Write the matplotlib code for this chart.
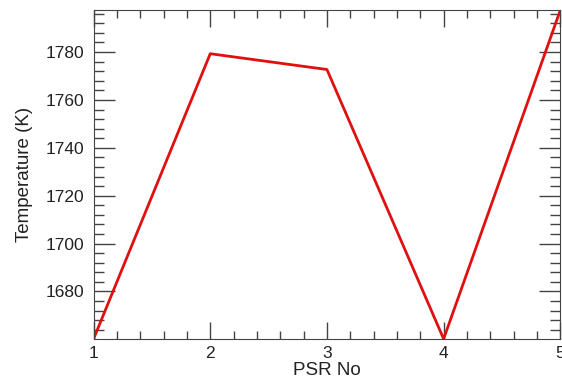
import matplotlib
matplotlib.use("Agg")
import matplotlib.pyplot as plt
from matplotlib.ticker import MultipleLocator

psr_no = [1, 2, 3, 4, 5]
temperature = [1660.2, 1779.3, 1772.7, 1660.2, 1797.5]

plt.rcParams['font.family'] = ['Liberation Sans', 'DejaVu Sans']
fig = plt.figure(figsize=(5.62, 3.90), dpi=100)
ax = fig.add_axes([0.1665, 0.131, 0.8305, 0.843])
ax.plot(psr_no, temperature, color='#e01010', lw=2.0)
ax.set_xlim(min(psr_no), max(psr_no))
ax.set_ylim(min(temperature), max(temperature))
ax.xaxis.set_major_locator(MultipleLocator(1))
ax.xaxis.set_minor_locator(MultipleLocator(0.2))
ax.yaxis.set_major_locator(MultipleLocator(20))
ax.yaxis.set_minor_locator(MultipleLocator(4))
ax.tick_params(which='both', direction='in', top=True, right=True, labelsize=12.5, color='#444444', labelcolor='#222222')
ax.tick_params(axis='x', which='major', length=12, width=1, pad=5)
ax.tick_params(axis='x', which='minor', length=5.5, width=1)
ax.tick_params(axis='y', which='major', length=15, width=1, pad=7)
ax.tick_params(axis='y', which='minor', length=7, width=1)
for s in ax.spines.values():
    s.set_color('#444444')
ax.set_xlabel('PSR No', fontsize=13.5, labelpad=1, color='#222222')
ax.set_ylabel('Temperature (K)', fontsize=13.5, labelpad=9, color='#222222')
fig.savefig('out.png', dpi=100)
